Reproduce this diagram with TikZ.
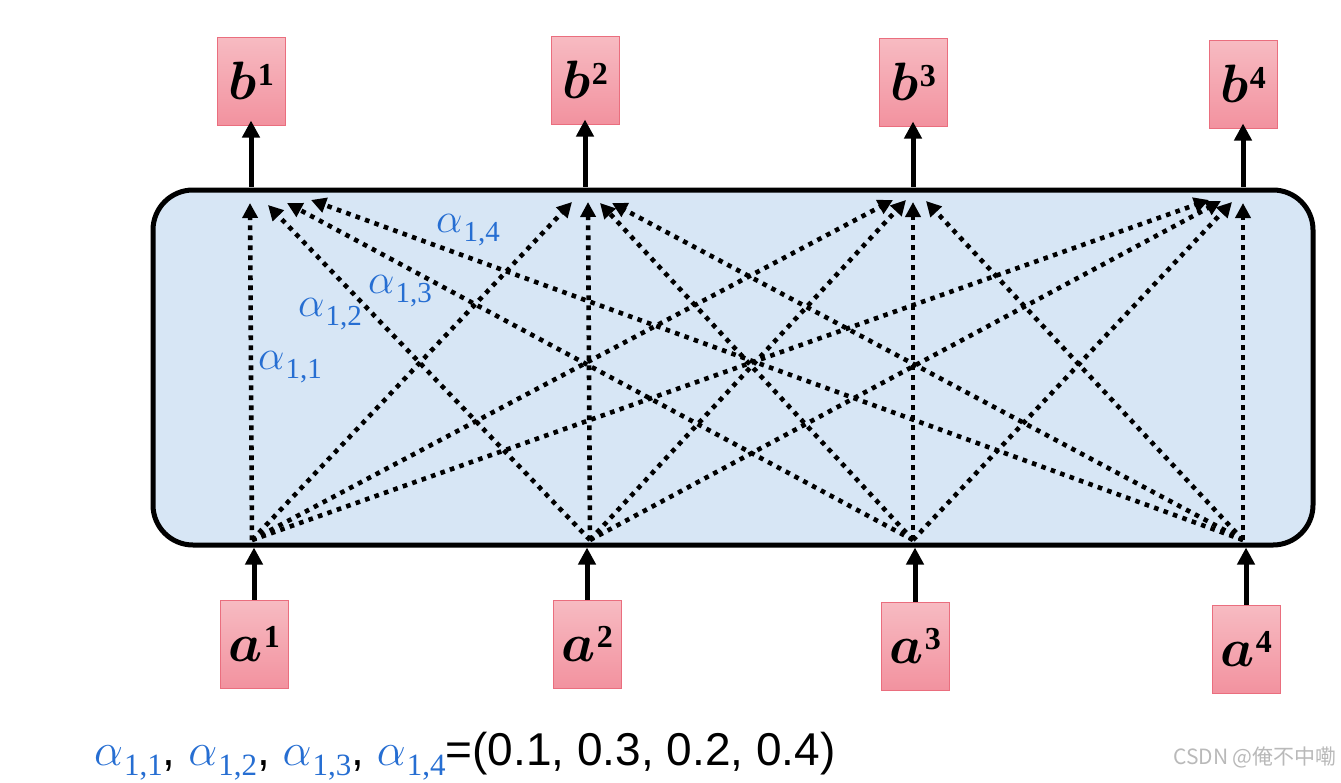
\RequirePackage{fix-cm}
\documentclass[tikz,border=0pt]{standalone}
\usepackage{amsmath,bm}
\usepackage{fontspec}
\setsansfont{Liberation Sans}
\newfontfamily\cjk{Noto Sans CJK SC}
\newfontfamily\digfont{Liberation Serif}
\usetikzlibrary{arrows.meta}
\definecolor{boxblue}{RGB}{215,230,245}
\definecolor{pinktop}{RGB}{247,187,194}
\definecolor{pinkbot}{RGB}{242,146,159}
\definecolor{pinkedge}{RGB}{234,110,126}
\definecolor{alphablue}{RGB}{38,110,210}
\definecolor{wmgray}{RGB}{185,185,185}
% vector label: letter, index
\newcommand\veclab[2]{$\bm{#1}$\kern1.5pt\raisebox{14pt}{\digfont\bfseries\fontsize{32}{32}\selectfont #2}}
% weight label: index, alpha size, subscript size, drop
\newcommand\wlab[4]{{\color{alphablue}\fontsize{#2}{#2}\selectfont$\alpha$\kern1pt\raisebox{-#4}{\digfont\fontsize{#3}{#3}\selectfont 1,#1}}}
\tikzset{
  vec/.style={draw=pinkedge, line width=1pt, top color=pinktop, bottom color=pinkbot,
    minimum width=68pt, minimum height=88pt, inner sep=0pt,
    font=\fontsize{54}{60}\selectfont},
  attn/.style={line width=4.6pt, dash pattern=on 4.6pt off 5.4pt,
    -{Triangle[length=15pt,width=15pt]}},
  solidarrow/.style={line width=5pt, -{Triangle[length=17pt,width=17pt]}},
  wlabel/.style={inner sep=0pt},
}
\begin{document}
\begin{tikzpicture}[x=1pt,y=-1pt]
\useasboundingbox (0,0) rectangle (1341,782);
% main box
\node[draw, line width=5pt, fill=boxblue, rounded corners=40pt,
  minimum width=1160pt, minimum height=355pt] (box) at (733,367.5) {};
% output vectors
\node[vec] (b1) at (251,81) {\veclab{b}{1}};
\node[vec] (b2) at (585,80) {\veclab{b}{2}};
\node[vec] (b3) at (913,82) {\veclab{b}{3}};
\node[vec] (b4) at (1243,84) {\veclab{b}{4}};
% input vectors
\node[vec] (a1) at (254,644) {\veclab{a}{1}};
\node[vec] (a2) at (587,644) {\veclab{a}{2}};
\node[vec] (a3) at (915,646) {\veclab{a}{3}};
\node[vec] (a4) at (1246,649) {\veclab{a}{4}};
% solid arrows
\draw[solidarrow] (box.north -| b1) ++(0,-1) -- ([yshift=5pt]b1.south);
\draw[solidarrow] (box.north -| b2) ++(0,-1) -- ([yshift=5pt]b2.south);
\draw[solidarrow] (box.north -| b3) ++(0,-1) -- ([yshift=5pt]b3.south);
\draw[solidarrow] (box.north -| b4) ++(0,-1) -- ([yshift=5pt]b4.south);
\draw[solidarrow] (a1.north) -- (box.south -| a1);
\draw[solidarrow] (a2.north) -- (box.south -| a2);
\draw[solidarrow] (a3.north) -- (box.south -| a3);
\draw[solidarrow] (a4.north) -- (box.south -| a4);
% sources
\coordinate (s1) at (252,540);
\coordinate (s2) at (590,540);
\coordinate (s3) at (913,540);
\coordinate (s4) at (1243,540);
% targets t<i><j>: column i, from source j
\coordinate (t11) at (250,203); \coordinate (t12) at (268,205);
\coordinate (t13) at (287,203); \coordinate (t14) at (311,200);
\coordinate (t21) at (572,202); \coordinate (t22) at (588,202);
\coordinate (t23) at (600,203); \coordinate (t24) at (612,203);
\coordinate (t31) at (893,200); \coordinate (t32) at (906,200);
\coordinate (t33) at (913,202); \coordinate (t34) at (926,201);
\coordinate (t41) at (1209,200); \coordinate (t42) at (1221,201);
\coordinate (t43) at (1232,202); \coordinate (t44) at (1243,203);
\foreach \i in {1,2,3,4}{
  \foreach \j in {1,2,3,4}{
    \draw[attn] (s\j) -- (t\i\j);
  }
}
% weight labels
\node[wlabel] (w11) at (290,367) {\wlab{1}{42}{29}{9pt}};
\node[wlabel] (w12) at (330,314) {\wlab{2}{42}{29}{9pt}};
\node[wlabel] (w13) at (400,291) {\wlab{3}{42}{29}{9pt}};
\node[wlabel] (w14) at (468,230) {\wlab{4}{42}{29}{9pt}};
% bottom formula
\node[anchor=base west, inner sep=0pt, font=\fontsize{46}{54}\selectfont\sffamily] (formula) at (94,765)
  {\wlab{1}{46}{31}{10pt}, \wlab{2}{46}{31}{10pt}, \wlab{3}{46}{31}{10pt}, \wlab{4}{46}{31}{10pt}=(0.1, 0.3, 0.2, 0.4)};
% watermark
\node[anchor=east, inner sep=0pt, text=wmgray, font=\cjk\fontsize{21}{24}\selectfont] (wm) at (1337,757) {CSDN @俺不中嘞};
\end{tikzpicture}
\end{document}
